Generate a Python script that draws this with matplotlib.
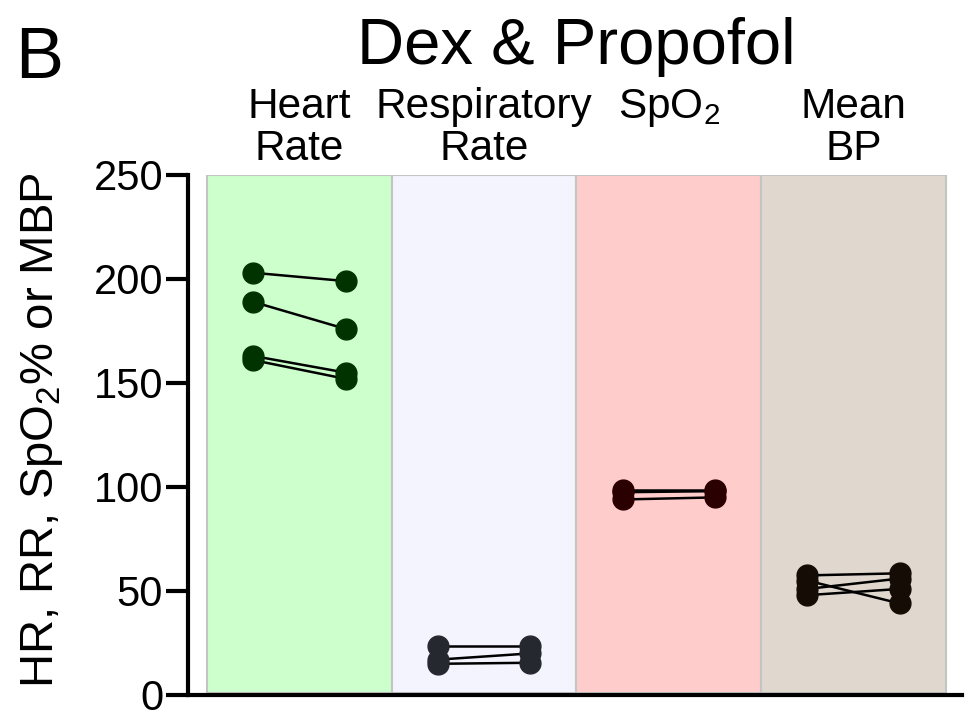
import matplotlib
matplotlib.use("Agg")
import matplotlib.pyplot as plt

plt.rcParams['font.family'] = ['Liberation Sans', 'DejaVu Sans']
plt.rcParams['mathtext.fontset'] = 'custom'
plt.rcParams['mathtext.rm'] = 'Liberation Sans'
plt.rcParams['mathtext.it'] = 'Liberation Sans:italic'

# Measurements before / after for each vital sign (one pair per subject)
categories = ["Heart\nRate", "Respiratory\nRate", "SpO$_2$", "Mean\nBP"]
hr_pre = [203, 189, 163, 161]
hr_post = [199, 176, 155, 152]
rr_pre = [23.5, 17, 15]
rr_post = [23.5, 20, 15.5]
spo2_pre = [98.5, 97.5, 94]
spo2_post = [98.5, 98, 95]
mbp_pre = [57.5, 55, 51, 48]
mbp_post = [58.5, 44, 56, 51]
yticks = [0, 50, 100, 150, 200, 250]

panel_colors = ["#ccffcc", "#f4f4fe", "#ffcccc", "#e0d8ce"]
marker_colors = ["#003300", "#262830", "#2b0000", "#150d05"]
series = [(hr_pre, hr_post), (rr_pre, rr_post), (spo2_pre, spo2_post), (mbp_pre, mbp_post)]

W, H = 969, 715
fig = plt.figure(figsize=(W / 100, H / 100), dpi=100)
ax = fig.add_axes([188 / W, 1 - 695 / H, (962 - 188) / W, (695 - 175) / H])
ax.set_xlim(-0.603, 3.587)
ax.set_ylim(0, 250)

for i, (pre, post) in enumerate(series):
    ax.axvspan(i - 0.5, i + 0.5, ymin=0.003, ymax=1.0, facecolor=panel_colors[i],
               edgecolor="#c4c4c4", linewidth=1.5, zorder=0)
    for a, b in zip(pre, post):
        ax.plot([i - 0.25, i + 0.25], [a, b], color="black", lw=1.8, zorder=2,
                solid_capstyle="butt")
        ax.plot([i - 0.25, i + 0.25], [a, b], linestyle="none", marker="o",
                markersize=15, color=marker_colors[i], zorder=3)

for s in ["top", "right"]:
    ax.spines[s].set_visible(False)
ax.spines["left"].set_linewidth(3)
ax.spines["bottom"].set_linewidth(3)
ax.spines["left"].set_bounds(0, 250)
ax.set_xticks([])
ax.set_yticks(yticks)
ax.set_yticklabels([str(t) for t in yticks])
ax.tick_params(axis="y", length=16, width=3, labelsize=30, pad=2)

fig.text(42 / W, 1 - 430 / H, "HR, RR, SpO$_2$% or MBP", rotation=90,
         ha="center", va="center", fontsize=34)

fig.text(15 / W, 1 - 78 / H, "B", ha="left", va="baseline", fontsize=52)
fig.text(576 / W, 1 - 64 / H, "Dex & Propofol", ha="center", va="baseline", fontsize=47)

for i, label in enumerate(categories):
    lines = label.split("\n")
    xd = ax.transData.transform((i, 0))[0] / W
    for j, line in enumerate(lines):
        base = 118 + 42 * j
        fig.text(xd, 1 - base / H, line, ha="center", va="baseline", fontsize=30.5)

fig.savefig("out.png", dpi=100)
